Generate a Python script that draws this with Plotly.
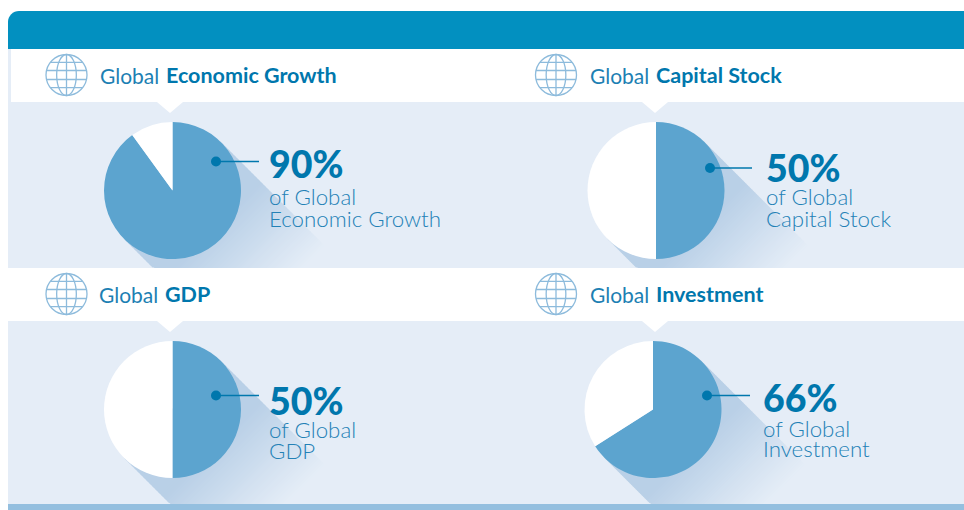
import math
import plotly.graph_objects as go

W, H = 964, 510

# ---- data ----
titles_plain = ["Global", "Global", "Global", "Global"]
titles_bold = ["Economic Growth", "Capital Stock", "GDP", "Investment"]
share_values = [90, 50, 50, 66]
rest_values = [10, 50, 50, 34]
value_labels = ["90%", "50%", "50%", "66%"]
line_one = ["of Global", "of Global", "of Global", "of Global"]
line_two = ["Economic Growth", "Capital Stock", "GDP", "Investment"]

# ---- styling / layout ----
BLUE_HEAD = "#0290c0"
PANEL = "#e5edf7"
BOTTOM = "#94bfdf"
PIE = "#5ca4cf"
SHADOW = (185, 208, 231)
DARK = "#0077ad"
MID = "#1c80b3"
LIGHT = "#2381b6"
GLOBE = "#8dbbdc"
FONT = "Lato"

pie_cx = [172.5, 656, 172.5, 653]
pie_cy = [190.5, 190.5, 409.5, 409.5]
pie_r = 68.5
panel_bottom = [268, 268, 504, 504]
globe_cx = [66.5, 556, 66.5, 556]
globe_cy = [75, 75, 294, 294]
globe_r = 20.5
title_x = [99.5, 589.5, 98.5, 589.5]
title_bold_x = [165.5, 655.5, 164.5, 655.5]
title_y = [75, 75, 294, 294]
notch_x = [170, 655, 170, 655]
notch_y = [102, 102, 321, 321]
dot_x = [216, 710, 216, 707]
dot_y = [161.5, 168, 395.5, 395.5]
line_end = [259, 752, 259, 750]
text_x = [268.5, 765.5, 268.5, 762.5]
value_y = [163, 168, 400, 397]
l1_y = [197, 197, 429, 428]
l2_y = [218, 218, 450, 448]


def px(x):
    return x / W


def py(y):
    return 1 - y / H


def path(points):
    return "M " + " L ".join(f"{px(a):.5f},{py(b):.5f}" for a, b in points) + " Z"


shapes = []


def rect(x0, y0, x1, y1, color, layer="below"):
    shapes.append(dict(type="rect", xref="paper", yref="paper", x0=px(x0), x1=px(x1),
                       y0=py(y0), y1=py(y1), fillcolor=color, line_width=0, layer=layer))


# header bar with rounded upper-left corner
arc = [(8 + 11 - 11 * math.cos(a * math.pi / 16), 11 + 11 - 11 * math.sin(a * math.pi / 16)) for a in range(9)]
shapes.append(dict(type="path", xref="paper", yref="paper", layer="below", line_width=0,
                   fillcolor=BLUE_HEAD, path=path([(8, 49)] + arc + [(964, 11), (964, 49)])))
rect(8, 49, 11, 102, PANEL)
rect(8, 102, 964, 268, PANEL)
rect(8, 321, 964, 504, PANEL)
rect(8, 504, 964, 510, BOTTOM)

# long shadows behind the pies
for i in range(4):
    cx, cy, yb = pie_cx[i], pie_cy[i], panel_bottom[i]
    u0, v0 = cx + cy, cx - cy
    w = pie_r * math.sqrt(2)
    solid, end, step = 80, 206, 3
    k = end
    while k > 0:
        u1, u2 = u0 + k - step, u0 + k + 1
        t = max(0, (k - step / 2 - solid) / (end - solid))
        col = "rgb(%d,%d,%d)" % tuple(round(s + (p - s) * t) for s, p in zip(SHADOW, (229, 237, 247)))
        vm1 = max(v0 - w, u1 - 2 * yb)
        vm2 = max(v0 - w, u2 - 2 * yb)
        vmax = v0 + w
        if vm1 < vmax:
            vm2 = min(vm2, vmax)
            pts = [((u1 + vm1) / 2, (u1 - vm1) / 2), ((u1 + vmax) / 2, (u1 - vmax) / 2),
                   ((u2 + vmax) / 2, (u2 - vmax) / 2), ((u2 + vm2) / 2, (u2 - vm2) / 2)]
            shapes.append(dict(type="path", xref="paper", yref="paper", layer="below",
                               line_width=0, fillcolor=col, path=path(pts)))
        k -= step

annots = []


def text(x, y, s, size, color, family=FONT, weight=None, anchor="left"):
    f = dict(size=size, color=color, family=family)
    if weight:
        f["weight"] = weight
    annots.append(dict(xref="paper", yref="paper", x=px(x), y=py(y), text=s, showarrow=False,
                       xanchor=anchor, yanchor="middle", font=f, align="left",
                       borderpad=0, borderwidth=0))


fig = go.Figure()
for i in range(4):
    cx, cy = pie_cx[i], pie_cy[i]
    fig.add_trace(go.Pie(values=[share_values[i], rest_values[i]], sort=False, direction="clockwise",
                         rotation=0, textinfo="none", hoverinfo="skip", showlegend=False,
                         marker=dict(colors=[PIE, "#ffffff"], line=dict(width=0)),
                         domain=dict(x=[px(cx - pie_r), px(cx + pie_r)],
                                     y=[py(cy + pie_r), py(cy - pie_r)])))
    # notch
    nx, ny = notch_x[i], notch_y[i]
    shapes.append(dict(type="path", xref="paper", yref="paper", layer="below", line_width=0,
                       fillcolor="#ffffff", path=path([(nx - 13, ny), (nx + 13, ny), (nx, ny + 11)])))
    # connector
    shapes.append(dict(type="line", xref="paper", yref="paper", x0=px(dot_x[i]), x1=px(line_end[i]),
                       y0=py(dot_y[i]), y1=py(dot_y[i]), line=dict(color=DARK, width=1.3), layer="above"))
    shapes.append(dict(type="circle", xref="paper", yref="paper", x0=px(dot_x[i] - 5), x1=px(dot_x[i] + 5),
                       y0=py(dot_y[i] + 5), y1=py(dot_y[i] - 5), fillcolor=DARK, line_width=0, layer="above"))
    # globe icon
    gx, gy, r = globe_cx[i], globe_cy[i], globe_r
    gl = dict(color=GLOBE, width=1.3)
    for rx in (r, r * 0.48):
        shapes.append(dict(type="circle", xref="paper", yref="paper", x0=px(gx - rx), x1=px(gx + rx),
                           y0=py(gy + r), y1=py(gy - r), line=gl, layer="above"))
    shapes.append(dict(type="line", xref="paper", yref="paper", x0=px(gx), x1=px(gx), y0=py(gy - r), y1=py(gy + r),
                       line=gl, layer="above"))
    for dy in (-0.62, -0.22, 0.22, 0.62):
        half = r * math.sqrt(1 - dy * dy)
        shapes.append(dict(type="line", xref="paper", yref="paper", x0=px(gx - half), x1=px(gx + half),
                           y0=py(gy + dy * r), y1=py(gy + dy * r), line=gl, layer="above"))
    # texts
    text(title_x[i], title_y[i], titles_plain[i], 21, MID)
    text(title_bold_x[i], title_y[i], titles_bold[i], 21.5, DARK, FONT, 700)
    text(text_x[i], value_y[i], value_labels[i], 37.5, DARK, FONT, 900)
    text(text_x[i], l1_y[i], line_one[i], 22.3, LIGHT, FONT, 300)
    text(text_x[i], l2_y[i], line_two[i], 22.3, LIGHT, FONT, 300)

fig.update_layout(width=W, height=H, margin=dict(l=0, r=0, t=0, b=0), paper_bgcolor="#ffffff",
                  plot_bgcolor="#ffffff", shapes=shapes, annotations=annots, showlegend=False)
fig.write_html("out.html", config=dict(displayModeBar=False),
               post_script="document.body.style.margin='0';")
